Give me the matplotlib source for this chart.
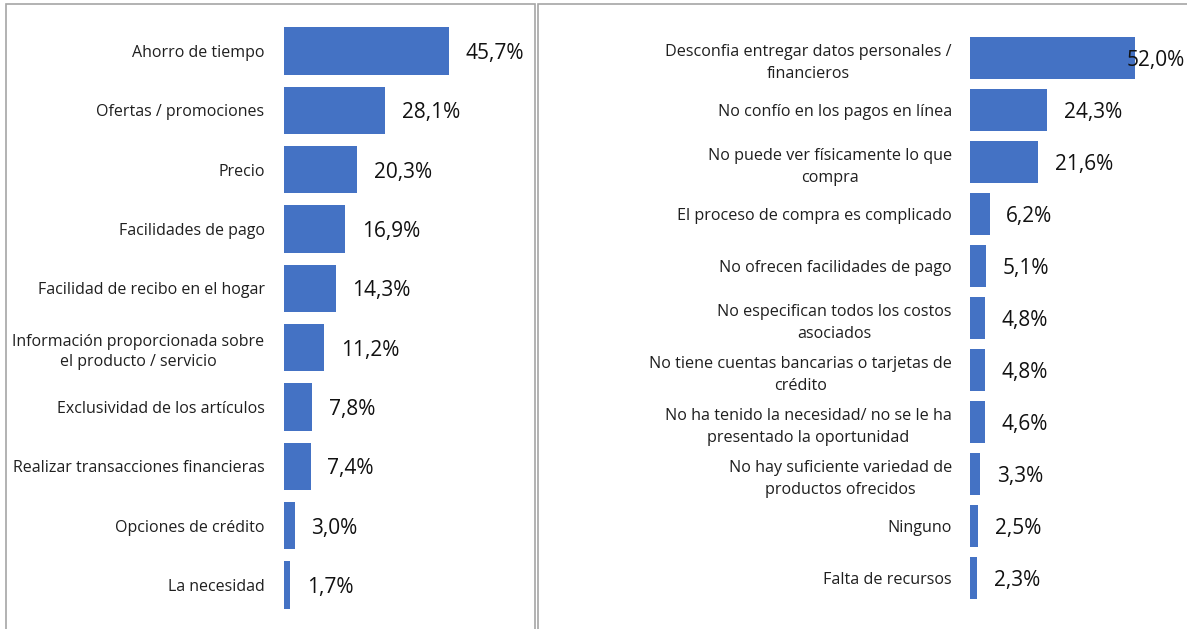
import matplotlib.pyplot as plt
from matplotlib.patches import Rectangle

# left panel: reasons to buy online
left_labels = [
    "Ahorro de tiempo",
    "Ofertas / promociones",
    "Precio",
    "Facilidades de pago",
    "Facilidad de recibo en el hogar",
    "Información proporcionada sobre\nel producto / servicio",
    "Exclusividad de los artículos",
    "Realizar transacciones financieras",
    "Opciones de crédito",
    "La necesidad",
]
left_values = [45.7, 28.1, 20.3, 16.9, 14.3, 11.2, 7.8, 7.4, 3.0, 1.7]

# right panel: reasons not to buy online
right_labels = [
    "Desconfia entregar datos personales /\nfinancieros",
    "No confío en los pagos en línea",
    "No puede ver físicamente lo que\ncompra",
    "El proceso de compra es complicado",
    "No ofrecen facilidades de pago",
    "No especifican todos los costos\nasociados",
    "No tiene cuentas bancarias o tarjetas de\ncrédito",
    "No ha tenido la necesidad/ no se le ha\npresentado la oportunidad",
    "No hay suficiente variedad de\nproductos ofrecidos",
    "Ninguno",
    "Falta de recursos",
]
right_values = [52.0, 24.3, 21.6, 6.2, 5.1, 4.8, 4.8, 4.6, 3.3, 2.5, 2.3]

BAR_COLOR = "#4472C4"
W, H = 1187, 629
plt.rcParams["font.family"] = ["Open Sans", "DejaVu Sans"]

fig = plt.figure(figsize=(W / 100, H / 100), dpi=100)

# panel frames
edge = "#a6a6a6"
fig.add_artist(Rectangle((6 / W, -0.1), (535 - 6) / W, 1.1 - 4 / H,
                         transform=fig.transFigure, fill=False, ec=edge, lw=1.2))
fig.add_artist(Rectangle((538 / W, -0.1), 0.6, 1.1 - 4 / H,
                         transform=fig.transFigure, fill=False, ec=edge, lw=1.2))


def draw_panel(rect, labels, values, xmax, label_pad, spacing, fsize):
    ax = fig.add_axes(rect)
    y = list(range(len(values)))
    ax.barh(y, values, height=0.8, color=BAR_COLOR)
    ax.set_ylim(len(values) - 0.5, -0.5)
    ax.set_xlim(0, xmax)
    ax.set_yticks(y)
    ax.set_yticklabels(labels, fontsize=fsize, color="#1f1f1f",
                       multialignment="center", linespacing=spacing)
    ax.tick_params(axis="y", length=0, pad=label_pad)
    ax.set_xticks([])
    for s in ax.spines.values():
        s.set_visible(False)
    for yi, v in zip(y, values):
        txt = f"{v:.1f}%".replace(".", ",")
        if v + 20 > xmax:
            ax.text(xmax, yi, txt, ha="right", va="center_baseline", fontsize=15,
                    color="#111111")
        else:
            ax.annotate(txt, (v, yi), xytext=(12, 0), textcoords="offset points",
                        ha="left", va="center_baseline", fontsize=15,
                        color="#111111")
    return ax


draw_panel([284 / W, 1 - 614.7 / H, (530 - 284) / W, (614.7 - 21.3) / H],
           left_labels, left_values, 246 / 3.61, 14, 1.4, 11.5)
draw_panel([970 / W, 1 - 604 / H, (1185 - 970) / W, (604 - 32) / H],
           right_labels, right_values, 215 / 3.17, 13, 1.5, 11.6)

fig.savefig("out.png", dpi=100)
